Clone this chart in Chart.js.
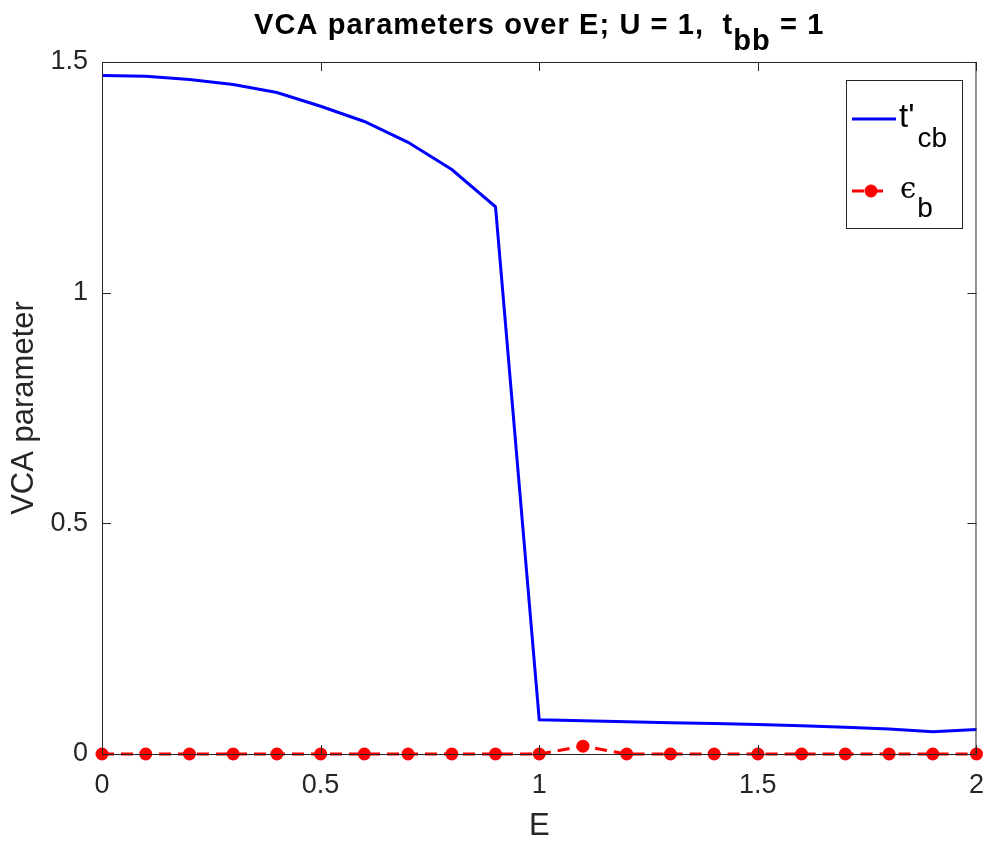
<!DOCTYPE html>
<html>
<head>
<meta charset="utf-8">
<script src="https://cdn.jsdelivr.net/npm/chart.js@4"></script>
<style>
  html, body { margin: 0; padding: 0; background: #fff; }
  #wrap { width: 991px; height: 845px; }
</style>
</head>
<body>
<div id="wrap"><canvas id="chart" width="991" height="845"></canvas></div>
<script>
// values
const energies = [0, 0.1, 0.2, 0.3, 0.4, 0.5, 0.6, 0.7, 0.8, 0.9, 1.0,
  1.1, 1.2, 1.3, 1.4, 1.5, 1.6, 1.7, 1.8, 1.9, 2.0];
const tcb = [1.471, 1.469, 1.462, 1.451, 1.434, 1.404, 1.371, 1.326, 1.267, 1.186, 0.074,
  0.072, 0.070, 0.068, 0.066, 0.064, 0.061, 0.058, 0.054, 0.048, 0.053];
const epsB = [0, 0, 0, 0, 0, 0, 0, 0, 0, 0, 0,
  0.017, 0, 0, 0, 0, 0, 0, 0, 0, 0];
const xTicks = [0, 0.5, 1, 1.5, 2];
const yTicks = [0, 0.5, 1, 1.5];

const FONT = '"Liberation Sans", Arial, sans-serif';
const TXT = '#262626';

const toPoints = (ys) => energies.map((e, i) => ({ x: e, y: ys[i] }));

// draw text pieces with subscripts
const drawRich = (ctx, x, y, parts) => {
  let cx = x;
  parts.forEach(p => {
    ctx.font = p.font;
    ctx.fillText(p.text, cx + (p.dx || 0), y + (p.dy || 0));
    cx += ctx.measureText(p.text).width + (p.dx || 0);
  });
  return cx;
};
const richWidth = (ctx, parts) => parts.reduce((w, p) => {
  ctx.font = p.font;
  return w + ctx.measureText(p.text).width + (p.dx || 0);
}, 0);

const framePlugin = {
  id: 'frame',
  afterDatasetsDraw(chart) {
    const { ctx, chartArea: a, scales } = chart;
    ctx.save();
    ctx.strokeStyle = TXT;
    ctx.lineWidth = 1;
    ctx.strokeRect(a.left + 0.5, a.top + 0.5, a.right - a.left - 1, a.bottom - a.top);
    // inward ticks
    ctx.beginPath();
    xTicks.forEach(v => {
      const px = Math.round(scales.x.getPixelForValue(v)) + 0.5;
      ctx.moveTo(px, a.bottom); ctx.lineTo(px, a.bottom - 9);
      ctx.moveTo(px, a.top); ctx.lineTo(px, a.top + 9);
    });
    yTicks.forEach(v => {
      const py = Math.round(scales.y.getPixelForValue(v)) + 0.5;
      ctx.moveTo(a.left, py); ctx.lineTo(a.left + 9, py);
      ctx.moveTo(a.right, py); ctx.lineTo(a.right - 9, py);
    });
    ctx.stroke();
    ctx.restore();
  },
  afterDraw(chart) {
    const { ctx, chartArea: a } = chart;
    ctx.save();
    ctx.fillStyle = '#000';
    ctx.textBaseline = 'alphabetic';
    ctx.textAlign = 'left';
    // title
    ctx.letterSpacing = '1.1px';
    const big = 'bold 29px ' + FONT;
    const title = [
      { text: 'VCA parameters over E; U = 1,  t', font: big },
      { text: 'bb', font: big, dy: 16 },
      { text: ' = 1', font: big }
    ];
    const tw = richWidth(ctx, title);
    drawRich(ctx, (a.left + a.right) / 2 - tw / 2, 34, title);
    ctx.letterSpacing = '0px';

    // legend
    const lx = 846, ly = 80, lw = 116, lh = 148;
    ctx.fillStyle = '#fff';
    ctx.fillRect(lx, ly, lw, lh);
    ctx.strokeStyle = TXT;
    ctx.lineWidth = 1;
    ctx.strokeRect(lx + 0.5, ly + 0.5, lw, lh);

    ctx.strokeStyle = '#0000ff';
    ctx.lineWidth = 3;
    ctx.beginPath(); ctx.moveTo(852, 119); ctx.lineTo(896, 119); ctx.stroke();

    ctx.strokeStyle = '#ff0000';
    ctx.setLineDash([12, 7]);
    ctx.beginPath(); ctx.moveTo(852, 191); ctx.lineTo(888, 191); ctx.stroke();
    ctx.setLineDash([]);
    ctx.fillStyle = '#ff0000';
    ctx.beginPath(); ctx.arc(871, 191, 6.5, 0, Math.PI * 2); ctx.fill();

    ctx.fillStyle = '#000';
    drawRich(ctx, 899, 127, [
      { text: "t'", font: '33px ' + FONT },
      { text: 'cb', font: '28px ' + FONT, dy: 20, dx: 3 }
    ]);
    drawRich(ctx, 900, 198, [
      { text: 'ϵ', font: '29px "DejaVu Serif", serif' },
      { text: 'b', font: '28px ' + FONT, dy: 19, dx: 1 }
    ]);
    ctx.restore();
  }
};

new Chart(document.getElementById('chart'), {
  type: 'line',
  data: {
    datasets: [
      {
        label: "t'cb",
        data: toPoints(tcb),
        borderColor: '#0000ff',
        borderWidth: 3,
        pointRadius: 0,
        tension: 0,
        clip: false
      },
      {
        label: 'eps_b',
        data: toPoints(epsB),
        borderColor: '#ff0000',
        backgroundColor: '#ff0000',
        borderWidth: 3,
        borderDash: [12, 7],
        pointRadius: 6.5,
        pointBorderWidth: 0,
        pointBackgroundColor: '#ff0000',
        tension: 0,
        clip: false
      }
    ]
  },
  options: {
    responsive: false,
    animation: false,
    layout: { padding: { top: 62, right: 13, left: 0, bottom: 0 } },
    plugins: {
      legend: { display: false },
      title: { display: false },
      tooltip: { enabled: false }
    },
    scales: {
      x: {
        type: 'linear',
        min: 0,
        max: 2,
        afterFit: (s) => { s.height = 91; },
        afterBuildTicks: (s) => { s.ticks = xTicks.map(v => ({ value: v })); },
        grid: { display: false },
        border: { display: false },
        ticks: {
          color: TXT,
          font: { family: FONT, size: 27 },
          padding: 7,
          maxRotation: 0,
          callback: (v) => String(v)
        },
        title: {
          display: true,
          text: 'E',
          color: TXT,
          font: { family: FONT, size: 31 },
          padding: { top: 0, bottom: 0 }
        }
      },
      y: {
        min: 0,
        max: 1.5,
        afterFit: (s) => { s.width = 102; },
        afterBuildTicks: (s) => { s.ticks = yTicks.map(v => ({ value: v })); },
        grid: { display: false },
        border: { display: false },
        ticks: {
          color: TXT,
          font: { family: FONT, size: 27 },
          padding: 6,
          callback: (v) => String(v)
        },
        title: {
          display: true,
          text: 'VCA parameter',
          color: TXT,
          font: { family: FONT, size: 31 },
          padding: { top: 6, bottom: 0 }
        }
      }
    }
  },
  plugins: [framePlugin]
});
</script>
</body>
</html>
